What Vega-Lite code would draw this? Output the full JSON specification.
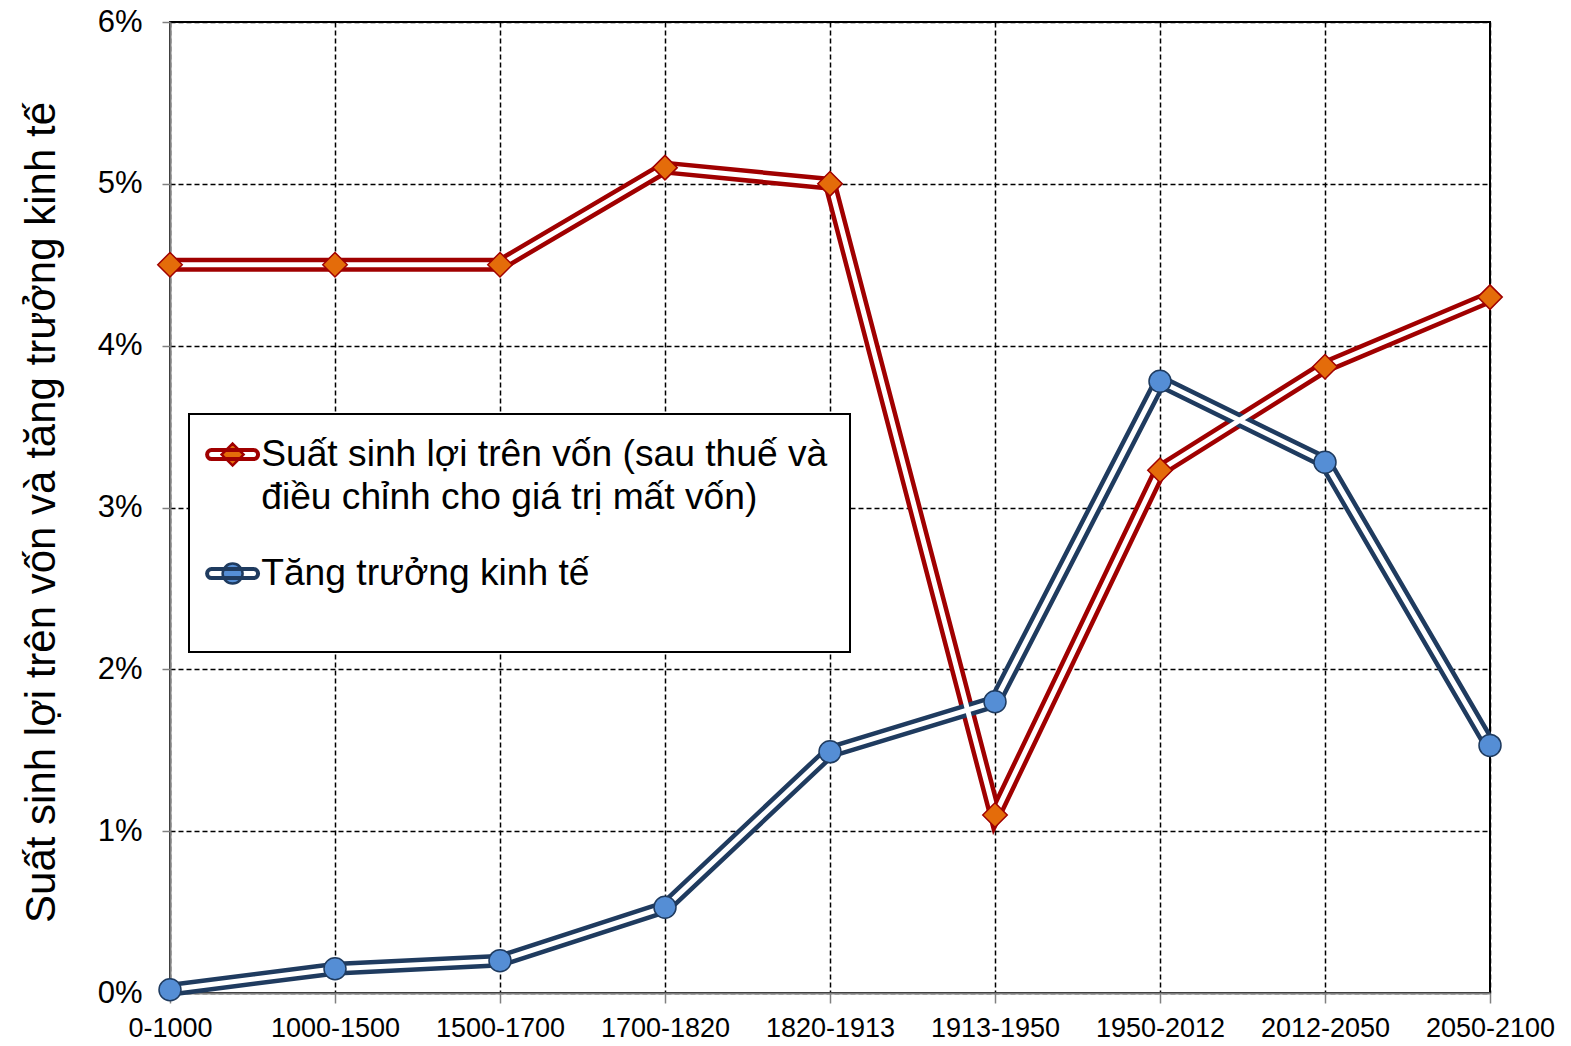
{
  "$schema": "https://vega.github.io/schema/vega-lite/v6.json",
  "width": 1320,
  "height": 971,
  "autosize": {"type": "none"},
  "padding": {"left": 170, "top": 22, "right": 81, "bottom": 53},
  "background": "white",
  "config": {
    "font": "Liberation Sans",
    "view": {"stroke": "black", "strokeWidth": 2}
  },
  "data": {
    "values": [
      {"period": "0-1000", "series": "Suất sinh lợi trên vốn (sau thuế và điều chỉnh cho giá trị mất vốn)", "value": 0.045},
      {"period": "1000-1500", "series": "Suất sinh lợi trên vốn (sau thuế và điều chỉnh cho giá trị mất vốn)", "value": 0.045},
      {"period": "1500-1700", "series": "Suất sinh lợi trên vốn (sau thuế và điều chỉnh cho giá trị mất vốn)", "value": 0.045},
      {"period": "1700-1820", "series": "Suất sinh lợi trên vốn (sau thuế và điều chỉnh cho giá trị mất vốn)", "value": 0.051},
      {"period": "1820-1913", "series": "Suất sinh lợi trên vốn (sau thuế và điều chỉnh cho giá trị mất vốn)", "value": 0.050},
      {"period": "1913-1950", "series": "Suất sinh lợi trên vốn (sau thuế và điều chỉnh cho giá trị mất vốn)", "value": 0.011},
      {"period": "1950-2012", "series": "Suất sinh lợi trên vốn (sau thuế và điều chỉnh cho giá trị mất vốn)", "value": 0.0323},
      {"period": "2012-2050", "series": "Suất sinh lợi trên vốn (sau thuế và điều chỉnh cho giá trị mất vốn)", "value": 0.0387},
      {"period": "2050-2100", "series": "Suất sinh lợi trên vốn (sau thuế và điều chỉnh cho giá trị mất vốn)", "value": 0.043},
      {"period": "0-1000", "series": "Tăng trưởng kinh tế", "value": 0.0002},
      {"period": "1000-1500", "series": "Tăng trưởng kinh tế", "value": 0.0015},
      {"period": "1500-1700", "series": "Tăng trưởng kinh tế", "value": 0.002},
      {"period": "1700-1820", "series": "Tăng trưởng kinh tế", "value": 0.0053},
      {"period": "1820-1913", "series": "Tăng trưởng kinh tế", "value": 0.0149},
      {"period": "1913-1950", "series": "Tăng trưởng kinh tế", "value": 0.018},
      {"period": "1950-2012", "series": "Tăng trưởng kinh tế", "value": 0.0378},
      {"period": "2012-2050", "series": "Tăng trưởng kinh tế", "value": 0.0328},
      {"period": "2050-2100", "series": "Tăng trưởng kinh tế", "value": 0.0153}
    ]
  },
  "encoding": {
    "x": {
      "field": "period",
      "type": "ordinal",
      "sort": null,
      "scale": {"type": "point", "padding": 0},
      "axis": {
        "title": null,
        "labelAngle": 0,
        "labelFontSize": 27,
        "labelColor": "black",
        "labelPadding": 12,
        "domainColor": "#808080",
        "domainWidth": 2,
        "tickColor": "#808080",
        "tickSize": 10,
        "tickWidth": 1.5,
        "grid": true,
        "gridColor": "black",
        "gridDash": [5, 3],
        "gridWidth": 1.5
      }
    },
    "y": {
      "field": "value",
      "type": "quantitative",
      "scale": {"domain": [0, 0.06], "nice": false},
      "axis": {
        "title": "Suất sinh lợi trên vốn và tăng trưởng kinh tế",
        "titleFontSize": 42,
        "titleFontWeight": "normal",
        "titleColor": "black",
        "titleX": -116,
        "titleY": 490,
        "titleBaseline": "alphabetic",
        "values": [0, 0.01, 0.02, 0.03, 0.04, 0.05, 0.06],
        "format": ".0%",
        "labelFontSize": 31,
        "labelColor": "black",
        "labelPadding": 20,
        "domainColor": "#808080",
        "domainWidth": 2,
        "tickColor": "#808080",
        "tickSize": 8,
        "tickWidth": 1.5,
        "grid": true,
        "gridColor": "black",
        "gridDash": [5, 3],
        "gridWidth": 1.5
      }
    }
  },
  "layer": [
    {
      "mark": {"type": "line", "strokeWidth": 14},
      "encoding": {
        "stroke": {
          "field": "series",
          "type": "nominal",
          "scale": {"domain": ["Suất sinh lợi trên vốn (sau thuế và điều chỉnh cho giá trị mất vốn)", "Tăng trưởng kinh tế"], "range": ["#A00000", "#1F3B5F"]},
          "legend": {
            "orient": "none",
            "legendX": 19,
            "legendY": 392,
            "title": " ",
            "titleOrient": "bottom",
            "titleFontSize": 30,
            "titlePadding": 8,
            "symbolType": "circle",
            "symbolSize": 400,
            "symbolStrokeWidth": 2.5,
            "symbolOffset": 3,
            "labelFontSize": 37.2,
            "labelColor": "black",
            "labelLimit": 1200,
            "labelOffset": 10,
            "labelExpr": "datum.label == 'Tăng trưởng kinh tế' ? datum.label : ['Suất sinh lợi trên vốn (sau thuế và', 'điều chỉnh cho giá trị mất vốn)']",
            "padding": 22,
            "rowPadding": 38,
            "fillColor": "white",
            "strokeColor": "black",
            "encode": {
              "legend": {"update": {"strokeWidth": {"value": 2}}},
              "symbols": {"update": {
                "shape": {"signal": "datum.value == 'Tăng trưởng kinh tế' ? 'M-2.1,-0.525L2.1,-0.525A0.525,0.525 0 0 1 2.1,0.525L-2.1,0.525A0.525,0.525 0 0 1 -2.1,-0.525ZM-2.1,-0.525A0.525,0.525 0 0 0 -2.1,0.525L2.1,0.525A0.525,0.525 0 0 0 2.1,-0.525ZM-2.1,-0.375L2.1,-0.375A0.375,0.375 0 0 1 2.1,0.375L-2.1,0.375A0.375,0.375 0 0 1 -2.1,-0.375ZM-2.1,-0.375A0.375,0.375 0 0 0 -2.1,0.375L2.1,0.375A0.375,0.375 0 0 0 2.1,-0.375ZM-1,0A1,1 0 1 1 1,0A1,1 0 1 1 -1,0Z' : 'M-2.1,-0.525L2.1,-0.525A0.525,0.525 0 0 1 2.1,0.525L-2.1,0.525A0.525,0.525 0 0 1 -2.1,-0.525ZM-2.1,-0.525A0.525,0.525 0 0 0 -2.1,0.525L2.1,0.525A0.525,0.525 0 0 0 2.1,-0.525ZM-2.1,-0.375L2.1,-0.375A0.375,0.375 0 0 1 2.1,0.375L-2.1,0.375A0.375,0.375 0 0 1 -2.1,-0.375ZM-2.1,-0.375A0.375,0.375 0 0 0 -2.1,0.375L2.1,0.375A0.375,0.375 0 0 0 2.1,-0.375ZM0,-1.1L1.1,0L0,1.1L-1.1,0Z'"},
                "fill": {"signal": "datum.value == 'Tăng trưởng kinh tế' ? '#558ED5' : '#E46C0A'"},
                "fillOpacity": {"value": 1},
                "opacity": {"value": 1},
                "strokeWidth": {"value": 2.5},
                "size": {"value": 400}
              }},
              "labels": {"update": {"lineHeight": {"value": 43}}}
            }
          }
        }
      }
    },
    {
      "mark": {"type": "line", "strokeWidth": 5, "color": "white"},
      "encoding": {
        "detail": {"field": "series", "type": "nominal"}
      }
    },
    {
      "transform": [{"filter": "datum.series != 'Tăng trưởng kinh tế'"}],
      "mark": {"type": "point", "shape": "diamond", "filled": true, "opacity": 1, "size": 600, "fill": "#E46C0A", "stroke": "#A00000", "strokeWidth": 1.5}
    },
    {
      "transform": [{"filter": "datum.series == 'Tăng trưởng kinh tế'"}],
      "mark": {"type": "point", "shape": "circle", "filled": true, "opacity": 1, "size": 484, "fill": "#558ED5", "stroke": "#1F3B5F", "strokeWidth": 1.5}
    }
  ]
}
